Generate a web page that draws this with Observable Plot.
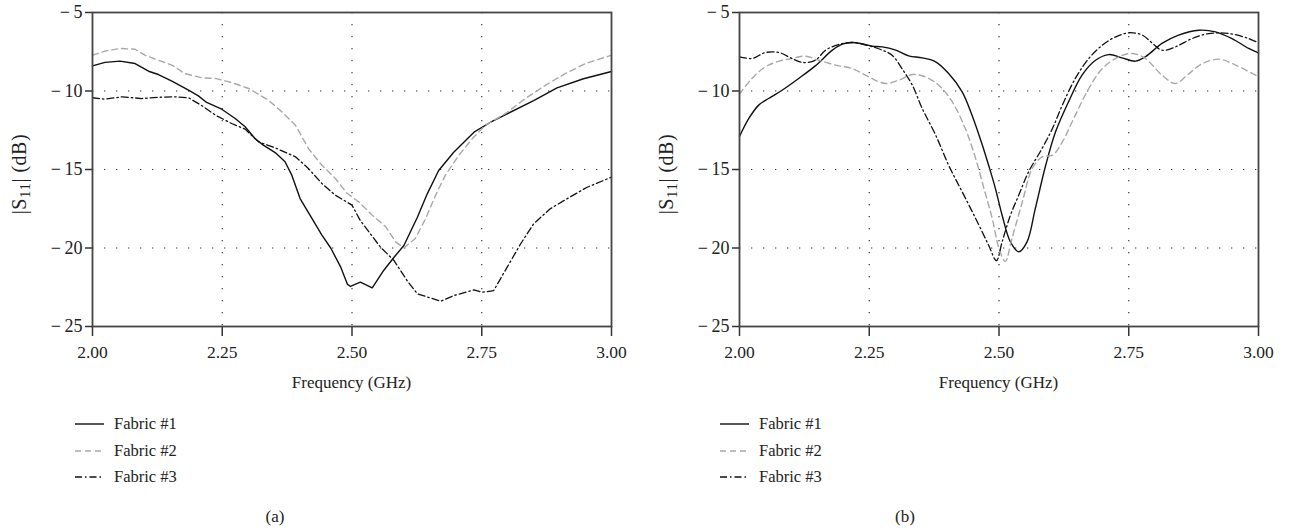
<!DOCTYPE html>
<html>
<head>
<meta charset="utf-8">
<script src="https://cdn.jsdelivr.net/npm/d3@7"></script>
<script src="https://cdn.jsdelivr.net/npm/@observablehq/plot@0.6"></script>
<style>
  html, body { margin: 0; padding: 0; background: #fff; }
  #root { position: relative; width: 1291px; height: 531px; background: #fff; font-family: "Liberation Serif", "DejaVu Serif", serif; color: #222; overflow: hidden; }
  .panel { position: absolute; top: 0; }
  .ylab { position: absolute; font-size: 20px; white-space: nowrap; transform: translate(-50%, -50%) rotate(-90deg); letter-spacing: 0.5px; }
  .ylab sub { font-size: 15px; vertical-align: -4px; }
  .xlab { position: absolute; font-size: 17px; white-space: nowrap; transform: translate(-50%, -50%); }
  .legend { position: absolute; font-size: 16.5px; }
  .legend .row { position: absolute; white-space: nowrap; height: 20px; }
  .legend svg { position: absolute; left: 0; top: 0; }
  .legend span { position: absolute; top: 0; line-height: 20px; }
  .cap { position: absolute; font-size: 17px; transform: translate(-50%, -50%); }
</style>
</head>
<body>
<div id="root"></div>
<script>
// ---------- data ----------
const xTicks = [2.00, 2.25, 2.50, 2.75, 3.00];
const yTicks = [-25, -20, -15, -10, -5];
const seriesNames = ["Fabric #1", "Fabric #2", "Fabric #3"];
const xLabel = "Frequency (GHz)";

// Panel (a)
const a1f = [2.000,2.024,2.053,2.082,2.108,2.127,2.153,2.185,2.204,2.220,2.249,2.275,2.294,2.313,2.329,2.352,2.371,2.384,2.400,2.419,2.442,2.459,2.478,2.491,2.497,2.516,2.539,2.561,2.581,2.600,2.626,2.645,2.667,2.696,2.735,2.767,2.799,2.850,2.895,2.946,3.000];
const a1v = [-8.40,-8.18,-8.10,-8.25,-8.74,-8.95,-9.37,-9.95,-10.31,-10.73,-11.16,-11.75,-12.28,-13.03,-13.45,-13.92,-14.51,-15.36,-16.85,-17.91,-19.18,-20.0,-21.2,-22.3,-22.45,-22.18,-22.54,-21.43,-20.59,-19.84,-18.04,-16.55,-15.06,-13.90,-12.62,-11.99,-11.45,-10.61,-9.80,-9.22,-8.76];

const a2f = [2.000,2.024,2.053,2.082,2.101,2.127,2.153,2.178,2.211,2.237,2.268,2.301,2.339,2.365,2.391,2.416,2.442,2.468,2.490,2.513,2.539,2.565,2.584,2.600,2.622,2.642,2.661,2.680,2.706,2.732,2.757,2.796,2.834,2.873,2.911,2.950,3.000];
const a2v = [-7.72,-7.46,-7.29,-7.34,-7.72,-8.04,-8.35,-8.89,-9.16,-9.20,-9.46,-9.84,-10.58,-11.33,-12.18,-13.66,-14.73,-15.57,-16.50,-17.06,-17.91,-18.65,-19.61,-19.99,-19.39,-18.12,-16.64,-15.36,-14.09,-13.03,-12.18,-11.43,-10.48,-9.63,-8.89,-8.25,-7.72];

const a3f = [2.000,2.024,2.057,2.095,2.127,2.159,2.185,2.211,2.237,2.268,2.294,2.320,2.352,2.391,2.416,2.442,2.468,2.500,2.516,2.555,2.581,2.606,2.626,2.671,2.696,2.735,2.751,2.773,2.799,2.825,2.850,2.882,2.914,2.953,3.000];
const a3v = [-10.43,-10.52,-10.37,-10.48,-10.40,-10.37,-10.43,-10.94,-11.54,-12.07,-12.43,-13.24,-13.62,-14.19,-14.94,-15.89,-16.64,-17.27,-18.25,-19.95,-20.80,-22.07,-22.92,-23.39,-23.03,-22.67,-22.82,-22.71,-21.22,-19.73,-18.46,-17.50,-16.87,-16.13,-15.49];

// Panel (b)
const b1f = [2.000,2.018,2.037,2.056,2.082,2.114,2.146,2.179,2.198,2.217,2.236,2.256,2.275,2.301,2.326,2.352,2.378,2.403,2.429,2.448,2.468,2.480,2.493,2.506,2.522,2.538,2.554,2.570,2.590,2.609,2.634,2.660,2.686,2.712,2.737,2.763,2.782,2.814,2.846,2.885,2.917,2.949,2.981,3.000];
const b1v = [-12.9,-11.75,-10.90,-10.48,-9.95,-9.20,-8.40,-7.40,-7.02,-6.91,-6.99,-7.15,-7.19,-7.40,-7.76,-7.89,-8.14,-8.89,-10.05,-11.54,-13.45,-14.73,-16.2,-17.91,-19.61,-20.24,-19.61,-17.48,-14.73,-12.60,-10.69,-8.99,-8.04,-7.68,-7.89,-8.10,-7.82,-6.97,-6.44,-6.13,-6.23,-6.66,-7.29,-7.57];

const b2f = [2.000,2.024,2.050,2.076,2.101,2.127,2.153,2.185,2.217,2.249,2.281,2.307,2.333,2.358,2.384,2.410,2.435,2.455,2.471,2.487,2.500,2.512,2.525,2.545,2.564,2.583,2.603,2.622,2.647,2.673,2.699,2.731,2.756,2.782,2.814,2.840,2.866,2.892,2.924,2.956,3.000];
const b2v = [-10.2,-9.20,-8.46,-8.10,-7.93,-7.78,-8.04,-8.35,-8.57,-9.10,-9.52,-9.31,-8.95,-9.10,-9.63,-10.69,-12.39,-14.30,-16.21,-18.12,-20.03,-20.85,-19.39,-17.06,-14.94,-14.19,-14.09,-13.24,-11.54,-9.84,-8.57,-7.82,-7.61,-7.93,-8.99,-9.52,-8.89,-8.25,-7.97,-8.35,-9.10];

const b3f = [2.000,2.024,2.050,2.076,2.101,2.121,2.146,2.166,2.191,2.217,2.249,2.275,2.294,2.313,2.333,2.352,2.378,2.403,2.429,2.455,2.480,2.495,2.506,2.522,2.538,2.557,2.583,2.603,2.622,2.647,2.673,2.699,2.725,2.751,2.776,2.796,2.814,2.840,2.872,2.904,2.943,2.981,3.000];
const b3v = [-7.82,-7.93,-7.55,-7.55,-7.93,-8.18,-8.04,-7.40,-7.04,-6.91,-7.12,-7.40,-7.72,-8.57,-9.63,-11.11,-12.81,-14.73,-16.42,-18.12,-19.82,-20.8,-19.61,-17.91,-16.64,-15.15,-13.66,-12.39,-10.90,-9.20,-7.93,-7.08,-6.55,-6.29,-6.44,-6.97,-7.40,-7.19,-6.66,-6.34,-6.34,-6.66,-6.93];

// ---------- styles ----------
const lineStyles = [
  {stroke: "#111", strokeWidth: 1.4, dash: null},
  {stroke: "#a8a8a8", strokeWidth: 1.4, dash: "6,4"},
  {stroke: "#111", strokeWidth: 1.3, dash: "7,3,1.5,3"}
];

const toRows = (fs, vs) => fs.map((f, i) => ({f, v: vs[i]}));
const yFmt = d => d < 0 ? "\u2212\u2009" + Math.abs(d) : String(d);

function panel(series, curve) {
  const marks = [
    Plot.gridX(xTicks.slice(1, -1), {stroke: "#333", strokeOpacity: 1, strokeWidth: 1.2, strokeDasharray: "1.3,10.7"}),
    Plot.gridY(yTicks.slice(1, -1), {stroke: "#333", strokeOpacity: 1, strokeWidth: 1.2, strokeDasharray: "1.3,10.7"}),
    Plot.axisX(xTicks, {tickSize: 10, tickPadding: 9, tickFormat: d3.format(".2f"), stroke: "#333", strokeWidth: 1.5, label: null, fontSize: 17.5}),
    Plot.axisY(yTicks, {tickSize: 7, tickPadding: 3, tickFormat: yFmt, stroke: "#333", strokeWidth: 1.5, label: null, fontSize: 18}),
  ];
  series.forEach((s, i) => {
    const st = lineStyles[i];
    marks.push(Plot.line(toRows(s[0], s[1]), {x: "f", y: "v", curve, stroke: st.stroke, strokeWidth: st.strokeWidth, strokeDasharray: st.dash}));
  });
  marks.push(Plot.frame({stroke: "#444", strokeWidth: 1.8}));
  return Plot.plot({
    width: 645, height: 370,
    marginLeft: 92, marginRight: 34, marginTop: 12, marginBottom: 44,
    x: {domain: [2, 3], label: null},
    y: {domain: [-25, -5], label: null},
    style: {fontFamily: "'Liberation Serif', 'DejaVu Serif', serif", fontSize: "17.5px", color: "#222", background: "transparent"},
    marks
  });
}

const root = document.getElementById("root");

function addPanel(left, series, curve, caption, legendX, capX) {
  const p = panel(series, curve);
  p.classList.add("panel");
  p.style.left = left + "px";
  root.appendChild(p);

  const yl = document.createElement("div");
  yl.className = "ylab";
  yl.style.left = (left + 21) + "px";
  yl.style.top = "174px";
  yl.innerHTML = "|S<sub>11</sub>| (dB)";
  root.appendChild(yl);

  const xl = document.createElement("div");
  xl.className = "xlab";
  xl.style.left = (left + 92 + 259.5) + "px";
  xl.style.top = "383px";
  xl.textContent = xLabel;
  root.appendChild(xl);

  const lg = document.createElement("div");
  lg.className = "legend";
  lg.style.left = legendX + "px";
  lg.style.top = "0px";
  const rowsY = [424, 451, 477];
  seriesNames.forEach((name, i) => {
    const st = lineStyles[i];
    const row = document.createElement("div");
    row.className = "row";
    row.style.left = "0px";
    row.style.top = (rowsY[i] - 10) + "px";
    row.innerHTML = `<svg width="32" height="20"><line x1="1" x2="30" y1="10" y2="10" stroke="${st.stroke}" stroke-width="${st.strokeWidth}" ${st.dash ? `stroke-dasharray="${st.dash}"` : ""}/></svg><span style="left:40px">${name}</span>`;
    lg.appendChild(row);
  });
  root.appendChild(lg);

  const cap = document.createElement("div");
  cap.className = "cap";
  cap.style.left = capX + "px";
  cap.style.top = "517px";
  cap.textContent = caption;
  root.appendChild(cap);
}

addPanel(0, [[a1f, a1v], [a2f, a2v], [a3f, a3v]], "linear", "(a)", 74, 275);
addPanel(647, [[b1f, b1v], [b2f, b2v], [b3f, b3v]], "catmull-rom", "(b)", 719, 905);
</script>
</body>
</html>
